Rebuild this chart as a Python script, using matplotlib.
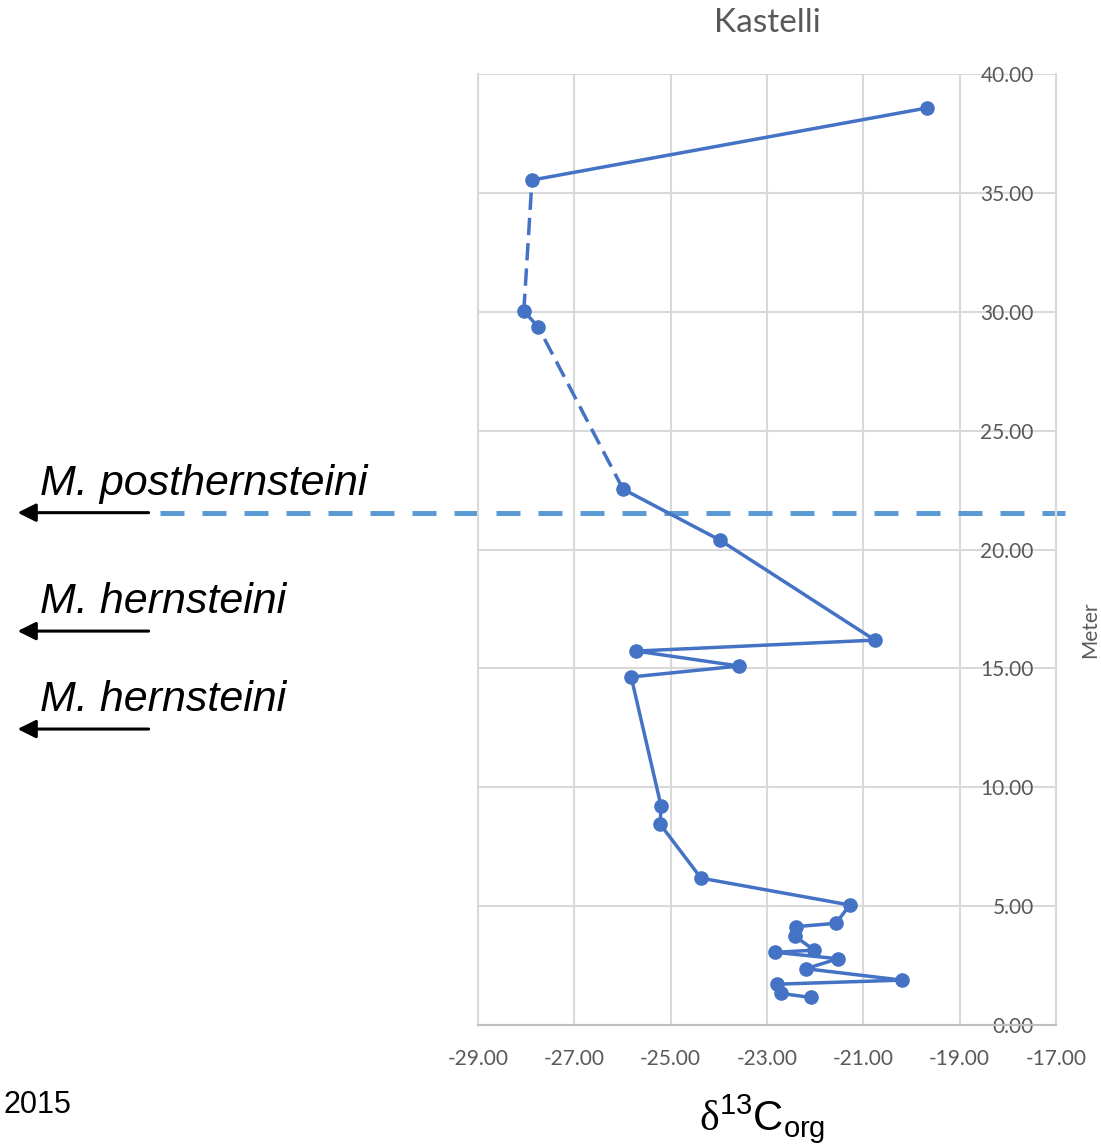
import matplotlib
matplotlib.use('Agg')
import matplotlib.pyplot as plt
import matplotlib.transforms as mtransforms

# Kastelli section: d13C (org) vs height in meters, bottom to top
d13c = [-22.09, -22.70, -22.79, -20.20, -22.19, -21.53, -22.83, -22.02,
        -22.42, -22.40, -21.57, -21.28, -24.37, -25.22, -25.20, -25.82,
        -23.58, -25.72, -20.76, -23.98, -25.99, -27.75, -28.05, -27.88,
        -19.68]
meter = [1.16, 1.33, 1.72, 1.89, 2.37, 2.79, 3.06, 3.15,
         3.74, 4.14, 4.28, 5.05, 6.18, 8.45, 9.21, 14.64,
         15.10, 15.73, 16.19, 20.40, 22.54, 29.36, 30.03, 35.54,
         38.57]
# (start, end) index pairs of the segments drawn dashed (sampling gaps)
gap_segments = [(20, 21), (22, 23)]

x_ticks = [-29, -27, -25, -23, -21, -19, -17]
y_ticks = [0, 5, 10, 15, 20, 25, 30, 35, 40]

# ammonite zone boundaries (meter) and labels
zone_levels = [21.55, 16.57, 12.45]
zone_names = ['M. posthernsteini', 'M. hernsteini', 'M. hernsteini']

BLUE = '#4472C4'
LIGHT_BLUE = '#5B9BD5'
GRID = '#D9D9D9'
TXT = '#595959'

plt.rcParams['mathtext.fontset'] = 'custom'
plt.rcParams['mathtext.rm'] = 'Liberation Serif'
plt.rcParams['mathtext.sf'] = 'Liberation Sans'

fig = plt.figure(figsize=(11.01, 11.47), dpi=100)
ax = fig.add_axes([0.4342, 0.1063, 0.5249, 0.8292])

# line segments: solid except across the gaps
n = len(d13c)
for i in range(n - 1):
    ln, = ax.plot(d13c[i:i + 2], meter[i:i + 2], color=BLUE, lw=2.5,
                  solid_capstyle='round', zorder=3)
    if (i, i + 1) in gap_segments:
        ln.set_dashes((5.0, 2.3))
ax.plot(d13c, meter, 'o', color=BLUE, ms=9.5, zorder=4)

ax.set_xlim(-29, -17)
ax.set_ylim(0, 40)
ax.set_xticks(x_ticks)
ax.set_yticks(y_ticks)
ax.set_xticklabels([f'{v:.2f}' for v in x_ticks])
ax.set_yticklabels([f'{v:.2f}' for v in y_ticks])
ax.grid(True, color=GRID, lw=1.5, zorder=0)
for side in ['top', 'left', 'right']:
    ax.spines[side].set_color(GRID)
    ax.spines[side].set_linewidth(1.5)
ax.spines['top'].set_visible(False)
ax.spines['bottom'].set_color('#BFBFBF')
ax.spines['bottom'].set_linewidth(1.5)

ax.tick_params(axis='x', length=0, pad=17, labelsize=15, labelcolor=TXT)
ax.tick_params(axis='y', length=0, left=False, labelleft=False,
               labelright=True, pad=-16, labelsize=15, labelcolor=TXT)
for lab in ax.get_xticklabels() + ax.get_yticklabels():
    lab.set_fontfamily('Lato')
for lab in ax.get_yticklabels():
    lab.set_horizontalalignment('right')

ax.set_title('Kastelli', fontsize=24, color=TXT, family='Lato', pad=30)
fig.text(0.990, 0.451, 'Meter', rotation=90, fontsize=15, color=TXT,
         family='Lato', ha='center', va='center')

# zone boundaries: x in figure fraction, y in data units
trans = mtransforms.blended_transform_factory(fig.transFigure, ax.transData)
ln, = ax.plot([0.145, 0.967], [zone_levels[0]] * 2, color=LIGHT_BLUE, lw=3.6,
              transform=trans, clip_on=False, zorder=2)
ln.set_dashes((4.8, 3.6))

for lvl, name in zip(zone_levels, zone_names):
    ax.annotate('', xy=(0.016, lvl), xytext=(0.135, lvl),
                xycoords=trans, textcoords=trans,
                arrowprops=dict(arrowstyle='-|>,head_length=1.1,head_width=0.55',
                                color='black', lw=2.2, shrinkA=0, shrinkB=0),
                annotation_clip=False)
    ax.annotate(name, xy=(0.036, lvl), xycoords=trans,
                xytext=(0, 18), textcoords='offset pixels',
                fontsize=31, style='italic', family='Liberation Sans',
                ha='left', va='baseline', annotation_clip=False)

fig.text(0.003, 0.0296, '2015', fontsize=22, family='Liberation Sans',
         ha='left', va='baseline')
fig.text(0.692, 0.015, r'$\mathrm{\delta}^{\mathsf{13}}\mathsf{C}_{\mathsf{org}}$',
         fontsize=30, ha='center', va='baseline')

fig.savefig('out.png', dpi=100)
